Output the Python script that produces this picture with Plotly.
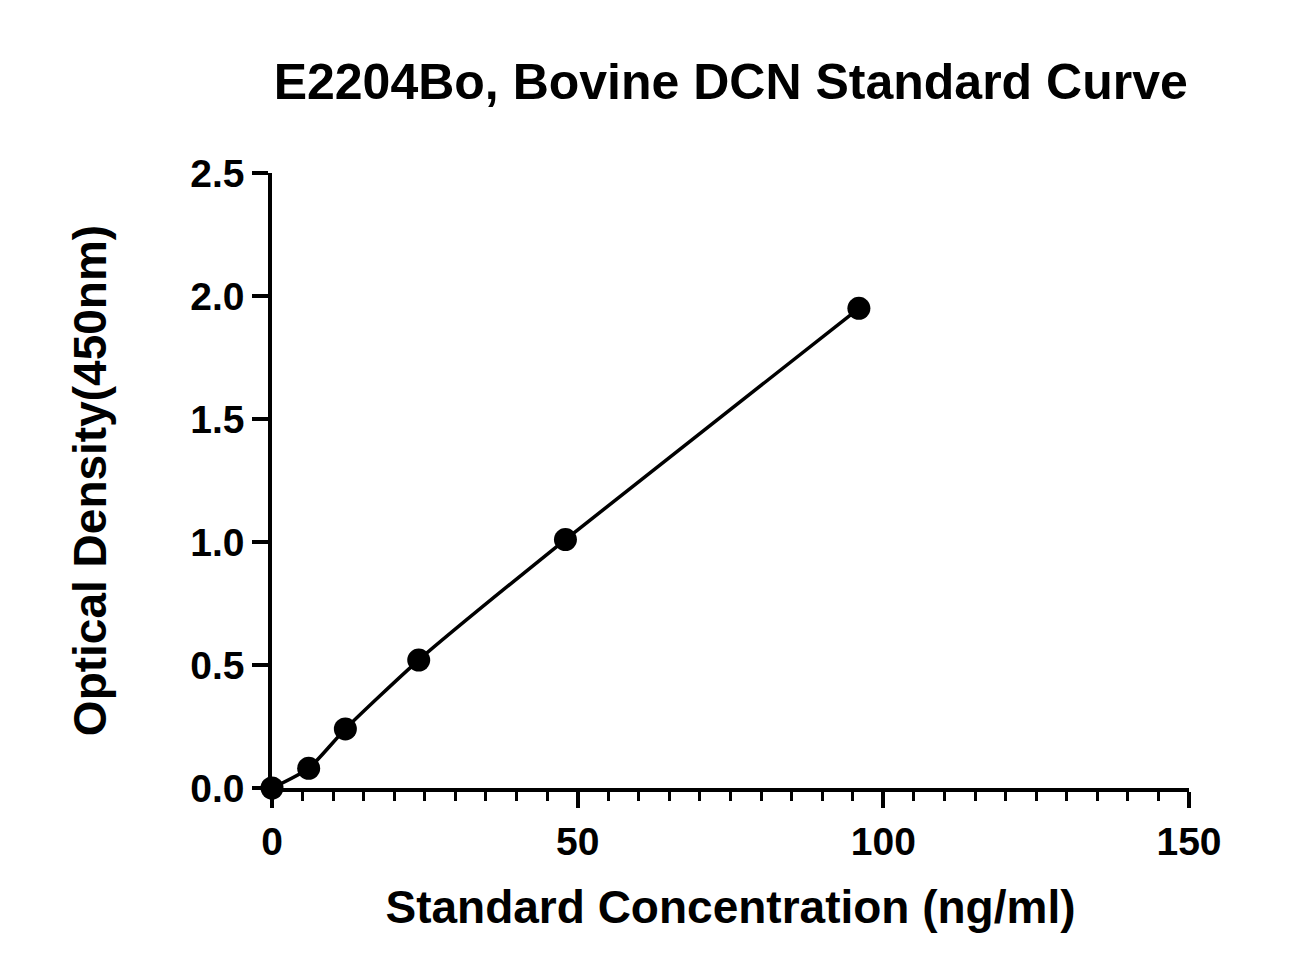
import plotly.graph_objects as go

# standard curve data
conc = [0, 6, 12, 24, 48, 96]
od = [0.0, 0.08, 0.24, 0.52, 1.01, 1.95]

fnt = "Liberation Sans, Arial, sans-serif"

fig = go.Figure()
fig.add_trace(go.Scatter(
    x=conc, y=od,
    mode="lines+markers",
    line=dict(color="black", width=3.5, shape="spline", smoothing=0.6),
    marker=dict(color="black", size=23),
    cliponaxis=False,
))

fig.update_layout(
    width=1314, height=975,
    margin=dict(l=264, r=133, t=165, b=195),
    plot_bgcolor="white", paper_bgcolor="white",
    showlegend=False,
    title=dict(text="<b>E2204Bo, Bovine DCN Standard Curve</b>",
               x=0.55, xanchor="center", y=0.925, yanchor="middle",
               font=dict(family=fnt, size=50, color="black")),
    font=dict(family=fnt, color="black"),
)

fig.update_xaxes(
    range=[0, 150], tickvals=[0, 50, 100, 150],
    showgrid=False, zeroline=False,
    showline=True, linecolor="black", linewidth=3.5,
    ticks="outside", ticklen=16, tickwidth=3.5, tickcolor="black",
    minor=dict(dtick=5, ticks="outside", ticklen=9, tickwidth=3, tickcolor="black"),
    tickfont=dict(family=fnt, size=39, color="black", weight="bold"),
    title=dict(text="<b>Standard Concentration (ng/ml)</b>",
               font=dict(family=fnt, size=46, color="black"), standoff=30),
)
fig.update_yaxes(
    range=[0, 2.5], tickvals=[0, 0.5, 1, 1.5, 2, 2.5],
    ticktext=["0.0", "0.5", "1.0", "1.5", "2.0", "2.5"],
    showgrid=False, zeroline=False,
    showline=True, linecolor="black", linewidth=3.5,
    ticks="outside", ticklen=16, tickwidth=3.5, tickcolor="black",
    tickfont=dict(family=fnt, size=39, color="black", weight="bold"),
    title=dict(text="<b>Optical Density(450nm)</b>",
               font=dict(family=fnt, size=46, color="black"), standoff=70),
)

fig.write_html("out.html")
